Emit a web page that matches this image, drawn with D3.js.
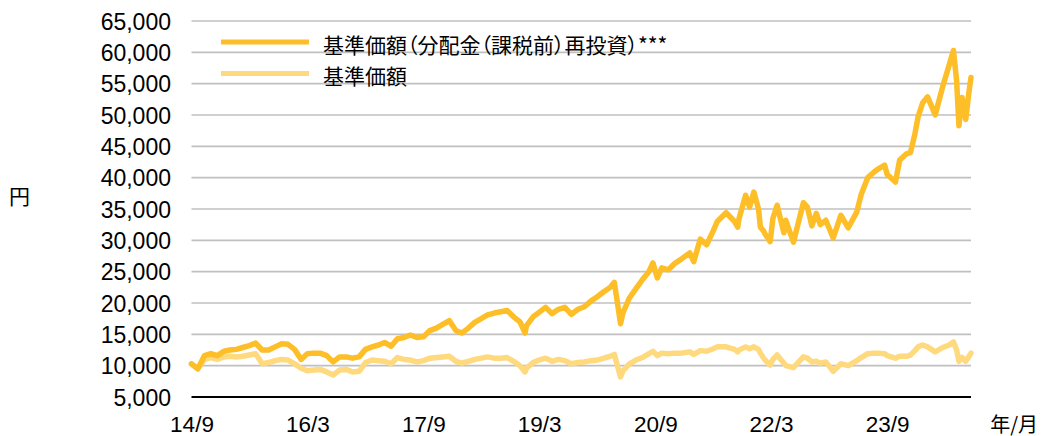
<!DOCTYPE html>
<html lang="ja">
<head>
    <meta charset="UTF-8">
    <title>基準価額の推移</title>
    <script src="https://cdn.jsdelivr.net/npm/d3@7"></script>
    <style>
        body{
            margin: 0;
            background: #ffffff;
        }
        .num{
            font-family: "Liberation Sans", Arial, sans-serif;
            font-size: 23px;
            fill: #000;
        }
        .xnum{
            font-family: "Liberation Sans", Arial, sans-serif;
            font-size: 22.5px;
            fill: #000;
        }
        .jp{
            font-family: "Noto Sans CJK JP", sans-serif;
            font-size: 21px;
            fill: #000;
            font-feature-settings: "palt";
        }
    </style>
</head>
<body>
<svg id="chart" width="1042" height="436"></svg>

<script>
    // dates of the points
    let dates = [
        "2014-09-01","2014-10-01","2014-11-01","2014-12-01","2015-01-01","2015-02-01","2015-03-01","2015-04-01",
        "2015-05-01","2015-06-01","2015-07-01","2015-08-01","2015-09-01","2015-10-01","2015-11-01","2015-12-01",
        "2016-01-01","2016-02-01","2016-03-01","2016-04-01","2016-05-01","2016-06-01","2016-07-01","2016-08-01",
        "2016-09-01","2016-10-01","2016-11-01","2016-12-01","2017-01-01","2017-02-01","2017-03-01","2017-04-01",
        "2017-05-01","2017-06-01","2017-07-01","2017-08-01","2017-09-01","2017-10-01","2017-11-01","2017-12-01",
        "2018-01-01","2018-02-01","2018-03-01","2018-04-01","2018-05-01","2018-06-01","2018-07-01","2018-08-01",
        "2018-09-01","2018-10-01","2018-11-01","2018-12-01","2018-12-25","2019-01-01","2019-02-01","2019-03-01",
        "2019-04-01","2019-05-01","2019-06-01","2019-07-01","2019-08-01","2019-09-01","2019-10-01","2019-11-01",
        "2019-12-01","2020-01-01","2020-02-01","2020-02-20","2020-03-20","2020-04-01","2020-05-01","2020-06-01",
        "2020-07-01","2020-08-01","2020-08-20","2020-09-10","2020-10-01","2020-11-01","2020-12-01","2021-01-01",
        "2021-02-10","2021-03-01","2021-04-01","2021-05-01","2021-06-01","2021-06-20","2021-08-01","2021-09-10",
        "2021-09-25","2021-10-01","2021-11-01","2021-11-20","2021-12-10","2022-01-01","2022-01-10","2022-01-25",
        "2022-02-01","2022-02-25","2022-03-10","2022-03-30","2022-05-01","2022-05-10","2022-06-15","2022-08-01",
        "2022-08-20","2022-09-10","2022-10-01","2022-10-20","2022-11-15","2022-12-20","2023-01-25","2023-03-01",
        "2023-04-10","2023-05-01","2023-06-01","2023-07-01","2023-07-25","2023-08-20","2023-09-01","2023-10-10",
        "2023-10-30","2023-12-01","2023-12-20","2024-01-10","2024-01-25","2024-02-15","2024-03-10","2024-04-15",
        "2024-05-20","2024-06-20","2024-07-10","2024-07-25","2024-08-05","2024-08-20","2024-09-06","2024-09-20",
        "2024-10-01"
    ]

    // 基準価額(分配金(課税前)再投資)
    let reinvest = [
        10300, 9500, 11600, 11900, 11600, 12300, 12500, 12600,
        12900, 13200, 13600, 12500, 12500, 13000, 13500, 13400,
        12600, 11000, 11900, 12000, 12000, 11600, 10600, 11400,
        11400, 11200, 11400, 12600, 13000, 13300, 13700, 13100,
        14300, 14500, 14900, 14500, 14600, 15600, 16000, 16600,
        17200, 15600, 15200, 16000, 16900, 17500, 18100, 18400,
        18600, 18800, 17800, 17000, 15200, 16400, 17800, 18500,
        19300, 18300, 19000, 19300, 18200, 19000, 19400, 20300,
        21000, 21800, 22500, 23300, 16700, 18500, 20800, 22300,
        23700, 25000, 26400, 24000, 25600, 25300, 26300, 27000,
        28000, 26600, 30200, 29300, 31500, 33000, 34400, 33000,
        32100, 33500, 37200, 35300, 37700, 35000, 32100, 31500,
        31000, 29800, 33500, 35600, 31200, 33200, 29700, 36000,
        35300, 32300, 34300, 32500, 33200, 30400, 34000, 32000,
        34500, 37300, 40000, 40900, 41500, 42000, 40500, 39300,
        42800, 43800, 44000, 47000, 49700, 51900, 52900, 50000,
        54500, 58000, 60300, 55500, 48300, 52800, 49300, 53300,
        56000
    ]

    // 基準価額
    let nav = [
        10300, 9500, 11000, 11300, 11000, 11400, 11500, 11400,
        11500, 11700, 11900, 10300, 10500, 10800, 11000, 10900,
        10300, 9600, 9200, 9300, 9400, 9000, 8500, 9300,
        9400, 9000, 9100, 10500, 10900, 10800, 10700, 10300,
        11300, 11000, 10900, 10600, 10800, 11200, 11300, 11400,
        11500, 10700, 10400, 10700, 11000, 11200, 11400, 11200,
        11200, 11300, 10700, 10000, 9000, 9600, 10500, 10900,
        11200, 10700, 11000, 10800, 10300, 10500, 10600, 10800,
        10900, 11200, 11500, 11800, 8200, 9200, 10300, 10900,
        11300, 11900, 12300, 11600, 12000, 11900, 12000, 12000,
        12200, 11800, 12400, 12300, 12700, 13000, 13000, 12600,
        12200, 12500, 13000, 12700, 13000, 12600, 12000, 11200,
        10900, 10100, 11000, 11700, 10400, 10000, 9700, 11400,
        11200, 10600, 10700, 10400, 10600, 9100, 10300, 10000,
        10800, 11300, 11900, 12000, 12000, 11900, 11600, 11200,
        11500, 11500, 11700, 12400, 13000, 13300, 13000, 12200,
        12900, 13300, 13800, 12500, 10700, 11300, 10700, 11400,
        12000
    ]

    let yTicks = [5000, 10000, 15000, 20000, 25000, 30000, 35000, 40000, 45000, 50000, 55000, 60000, 65000]
    let xTickDates = ["2014-09-01","2016-03-01","2017-09-01","2019-03-01","2020-09-01","2022-03-01","2023-09-01"]
    let xTickLabels = ["14/9","16/3","17/9","19/3","20/9","22/3","23/9"]

    let seriesNames = ["基準価額（分配金（課税前）再投資）***", "基準価額"]
    let seriesColors = ["#fdbe28", "#ffd97d"]

    let parseDate = d3.timeParse("%Y-%m-%d")
    let dt = dates.map(parseDate)

    let svg = d3.select("#chart")

    // plot area
    let plotLeft = 191.5, plotRight = 971, plotTop = 21, plotBottom = 397

    let x = d3.scaleTime()
        .domain([parseDate("2014-09-01"), parseDate("2024-10-01")])
        .range([plotLeft, plotRight])

    let y = d3.scaleLinear()
        .domain([5000, 65000])
        .range([plotBottom, plotTop])

    // grid lines
    svg.append("g")
        .selectAll("line")
        .data(yTicks.slice(1))
        .enter()
        .append("line")
        .attr("x1", plotLeft)
        .attr("x2", plotRight)
        .attr("y1", d => y(d))
        .attr("y2", d => y(d))
        .attr("stroke", "#c0c0c0")
        .attr("stroke-width", 1.6)

    // y axis labels
    let yAxis = d3.axisLeft(y)
        .tickValues(yTicks)
        .tickFormat(d3.format(","))
        .tickSize(0)
        .tickPadding(0)
    svg.append("g")
        .attr("transform", "translate(171,0)")
        .call(yAxis)
        .call(g => g.select(".domain").remove())
        .selectAll("text")
        .attr("class", "num")
        .attr("font-size", null)
        .attr("font-family", null)
        .attr("dy", "0.36em")

    // x axis
    let xAxis = d3.axisBottom(x)
        .tickValues(xTickDates.map(parseDate))
        .tickFormat((d, i) => xTickLabels[i])
        .tickSize(0)
        .tickPadding(0)
    let xg = svg.append("g")
        .attr("transform", "translate(0," + plotBottom + ")")
        .call(xAxis)
    xg.select(".domain")
        .attr("d", "M" + plotLeft + ",0H" + plotRight)
        .attr("stroke", "#000")
        .attr("stroke-width", 2)
    xg.selectAll("text")
        .attr("class", "xnum")
        .attr("font-size", null)
        .attr("font-family", null)
        .attr("y", 27)
        .attr("dy", "0.36em")

    // lines
    let line = d3.line()
        .x((d, i) => x(dt[i]))
        .y(d => y(d))

    svg.append("path")
        .datum(nav)
        .attr("d", line)
        .attr("fill", "none")
        .attr("stroke", seriesColors[1])
        .attr("stroke-width", 5.5)
        .attr("stroke-linejoin", "round")
        .attr("stroke-linecap", "round")

    svg.append("path")
        .datum(reinvest)
        .attr("d", line)
        .attr("fill", "none")
        .attr("stroke", seriesColors[0])
        .attr("stroke-width", 5.5)
        .attr("stroke-linejoin", "round")
        .attr("stroke-linecap", "round")

    // legend
    let legend = svg.append("g")
        .selectAll("g")
        .data(seriesNames)
        .enter()
        .append("g")
        .attr("transform", (d, i) => "translate(221," + (42 + i * 31.5) + ")")
    legend.append("line")
        .attr("x1", 0)
        .attr("x2", 88)
        .attr("stroke", (d, i) => seriesColors[i])
        .attr("stroke-width", 5)
    legend.append("text")
        .attr("class", "jp")
        .attr("x", 102)
        .attr("y", 1.5)
        .attr("dominant-baseline", "central")
        .text(d => d)

    // axis titles
    svg.append("text")
        .attr("class", "jp")
        .attr("x", 19.5)
        .attr("y", 195)
        .attr("text-anchor", "middle")
        .attr("dominant-baseline", "central")
        .text("円")

    svg.append("text")
        .attr("class", "jp")
        .attr("x", 1038)
        .attr("y", 423)
        .attr("text-anchor", "end")
        .attr("dominant-baseline", "central")
        .attr("font-size", "20px")
        .style("font-size", "20px")
        .text("年/月")
</script>
</body>
</html>
